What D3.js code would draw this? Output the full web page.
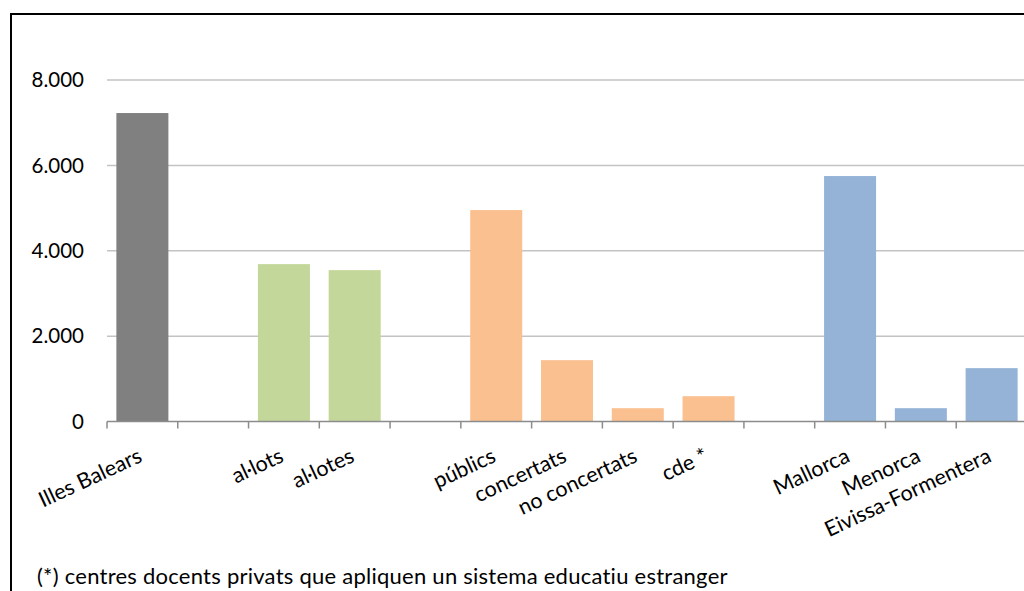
<!DOCTYPE html>
<html>
<head>
<meta charset="utf-8">
<script src="https://cdn.jsdelivr.net/npm/d3@7"></script>
<style>
	body { margin: 0; background: #fff; }
	svg { display: block; font-family: Lato, "Open Sans", sans-serif; }
</style>
</head>
<body>
<svg id="chart" width="1024" height="591"></svg>
<script>
// categories, gaps (null) keep the empty slots between the groups
let categories = ["Illes Balears", null, "al·lots", "al·lotes", null,
	"públics", "concertats", "no concertats", "cde *", null,
	"Mallorca", "Menorca", "Eivissa-Formentera"];
let values = [7226, null, 3687, 3546, null,
	4953, 1437, 312, 593, null,
	5750, 312, 1250];
let groups = ["total", null, "sexe", "sexe", null,
	"titularitat", "titularitat", "titularitat", "titularitat", null,
	"illa", "illa", "illa"];
let y_ticks = [0, 2000, 4000, 6000, 8000];
let footnote = "(*) centres docents privats que apliquen un sistema educatiu estranger";

let group_colors = {
	"total": "#808080",
	"sexe": "#c4d79b",
	"titularitat": "#fac090",
	"illa": "#95b3d7"
};

let svg = d3.select('#chart'),
	plot_left = 107,
	plot_right = 1027,
	plot_top = 80,
	plot_bottom = 421.5;

let cat_locale = d3.formatLocale({decimal: ",", thousands: ".", grouping: [3], currency: ["", " €"]}),
	fmt = cat_locale.format(",d");

let xScale = d3.scaleBand()
	.domain(d3.range(categories.length))
	.range([plot_left, plot_right])
	.paddingInner(0.265)
	.paddingOuter(0.1325);

let yScale = d3.scaleLinear()
	.domain([0, 8000])
	.range([plot_bottom, plot_top]);

// outer frame
svg.append('rect')
	.attr('x', 11)
	.attr('y', 14)
	.attr('width', 1100)
	.attr('height', 700)
	.attr('fill', 'none')
	.attr('stroke', '#000')
	.attr('stroke-width', 2);

// gridlines
svg.append('g')
	.selectAll('line')
	.data(y_ticks.filter(d => d > 0))
	.enter()
	.append('line')
	.attr('x1', plot_left)
	.attr('x2', plot_right)
	.attr('y1', d => yScale(d))
	.attr('y2', d => yScale(d))
	.attr('stroke', '#c3c3c3')
	.attr('stroke-width', 1.5);

// y labels
svg.append('g')
	.selectAll('text')
	.data(y_ticks)
	.enter()
	.append('text')
	.attr('x', 84)
	.attr('y', d => yScale(d))
	.attr('dy', '0.35em')
	.attr('text-anchor', 'end')
	.attr('font-size', 20.5)
	.attr('fill', '#000')
	.text(d => fmt(d));

// bars
let bar_data = values.map((v, i) => ({i: i, value: v, group: groups[i]}))
	.filter(d => d.value !== null);

svg.append('g')
	.selectAll('rect')
	.data(bar_data)
	.enter()
	.append('rect')
	.attr('x', d => xScale(d.i))
	.attr('y', d => yScale(d.value))
	.attr('width', xScale.bandwidth())
	.attr('height', d => yScale(0) - yScale(d.value))
	.attr('fill', d => group_colors[d.group]);

// category axis (ticks between the slots)
let step = xScale.step(),
	boundaries = d3.range(categories.length + 1).map(i => plot_left + i * step);

let x_axis = svg.append('g');
x_axis.append('line')
	.attr('x1', plot_left)
	.attr('x2', plot_right)
	.attr('y1', plot_bottom)
	.attr('y2', plot_bottom)
	.attr('stroke', '#8c8c8c')
	.attr('stroke-width', 1.5);

x_axis.selectAll('.tick')
	.data(boundaries)
	.enter()
	.append('line')
	.attr('class', 'tick')
	.attr('x1', d => d)
	.attr('x2', d => d)
	.attr('y1', plot_bottom)
	.attr('y2', plot_bottom + 7)
	.attr('stroke', '#8c8c8c')
	.attr('stroke-width', 1.5);

x_axis.selectAll('.cat_label')
	.data(categories.map((c, i) => ({i: i, label: c})).filter(d => d.label !== null))
	.enter()
	.append('text')
	.attr('class', 'cat_label')
	.attr('transform', d => `translate(${xScale(d.i) + xScale.bandwidth() / 2 + 1}, 461) rotate(-25)`)
	.attr('text-anchor', 'end')
	.attr('font-size', 21.5)
	.attr('fill', '#000')
	.text(d => d.label);

// footnote
svg.append('text')
	.attr('x', 37)
	.attr('y', 584)
	.attr('font-size', 22)
	.attr('letter-spacing', 0.25)
	.attr('fill', '#000')
	.text(footnote);
</script>
</body>
</html>
